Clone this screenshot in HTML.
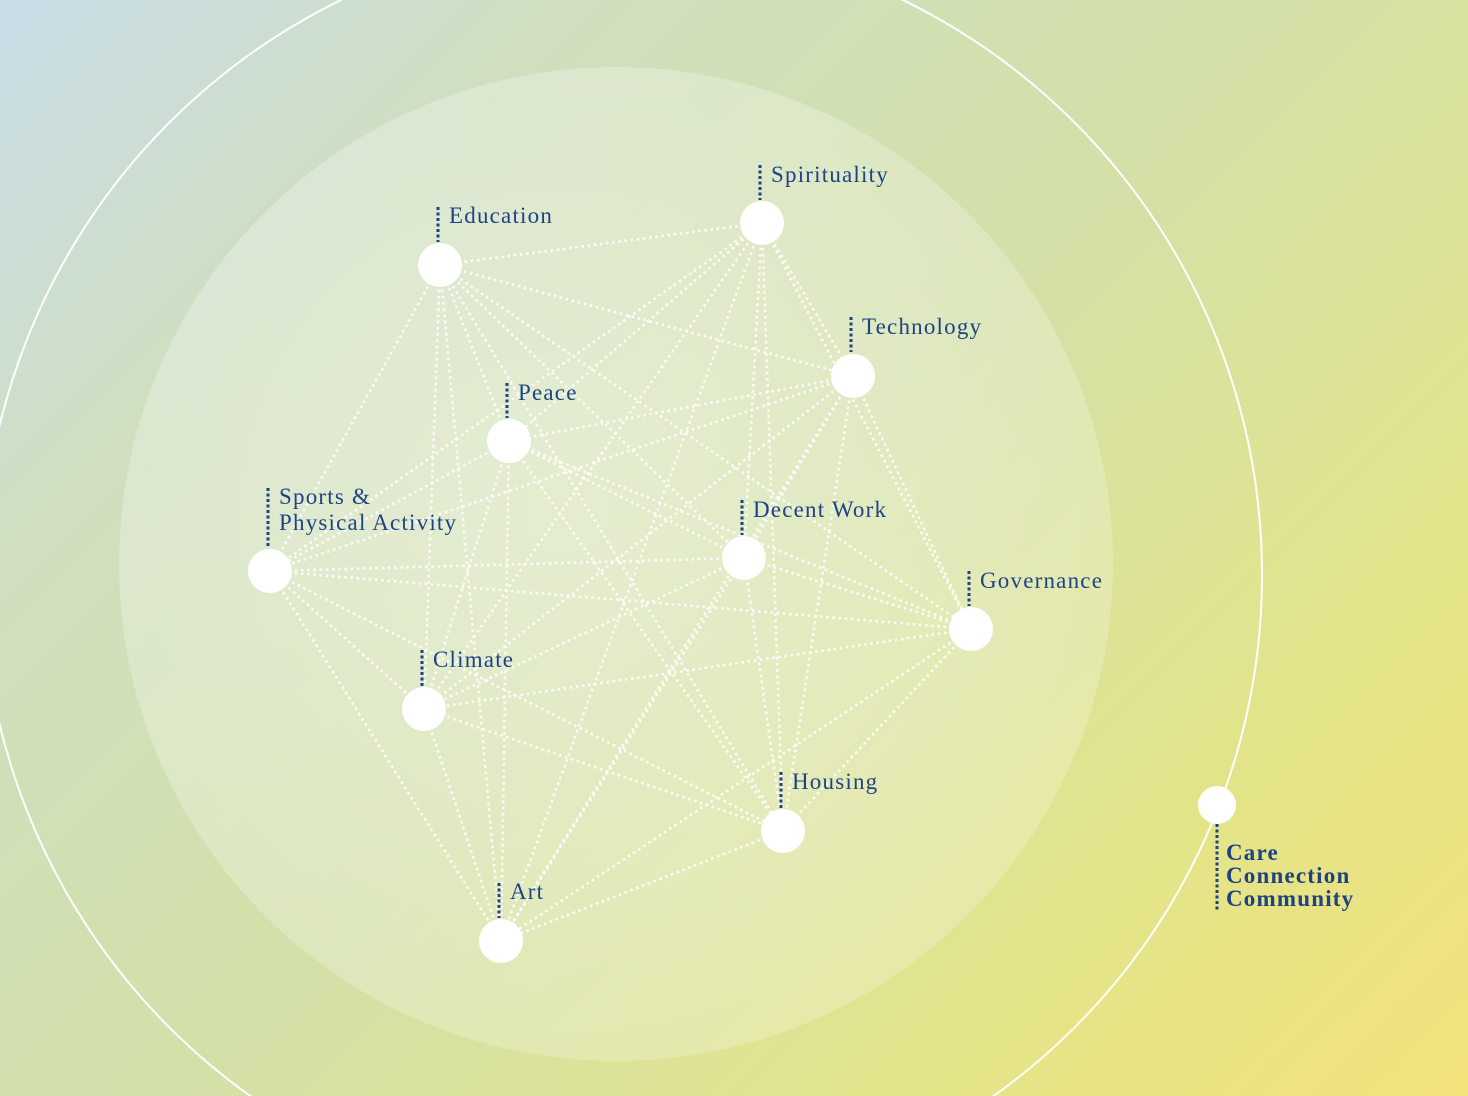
<!DOCTYPE html>
<html><head><meta charset="utf-8"><style>
html,body{margin:0;padding:0;width:1468px;height:1096px;overflow:hidden;position:relative}
body{background:linear-gradient(135deg,#c8dce8 0%,#cfdfc0 22%,#d3e0a8 50%,#e3e48a 78%,#f2e27a 100%)}
svg{position:absolute;left:0;top:0;display:block}
text{font-family:"Liberation Serif",serif;fill:#1e4384;font-size:23px;letter-spacing:1.2px}
</style></head><body>
<svg width="1468" height="1096" viewBox="0 0 1468 1096">
<defs><radialGradient id="g" cx="0.45" cy="0.45" r="0.6">
<stop offset="0" stop-color="#ffffff" stop-opacity="0.42"/>
<stop offset="1" stop-color="#ffffff" stop-opacity="0.2"/></radialGradient></defs>
<circle cx="622" cy="575" r="640" fill="none" stroke="#fff" stroke-width="2"/>
<circle cx="616" cy="564" r="497" fill="url(#g)"/>
<g id="edges" stroke="#fff" stroke-opacity="0.85" stroke-width="2.6" stroke-dasharray="2.6 3.6"></g>
<g id="nodes" fill="#fff"></g>
<g stroke="#1e4384" stroke-width="3" stroke-dasharray="3 2.5">
<line x1="438" y1="207" x2="438" y2="242"/>
<line x1="760" y1="165" x2="760" y2="200"/>
<line x1="851" y1="317" x2="851" y2="352"/>
<line x1="507" y1="383" x2="507" y2="418"/>
<line x1="268" y1="488" x2="268" y2="548"/>
<line x1="742" y1="500" x2="742" y2="535"/>
<line x1="969" y1="571" x2="969" y2="606"/>
<line x1="422" y1="650" x2="422" y2="686"/>
<line x1="781" y1="772" x2="781" y2="808"/>
<line x1="499" y1="883" x2="499" y2="918"/>
<line x1="1217" y1="824" x2="1217" y2="910"/>
</g>
<text x="449" y="223">Education</text>
<text x="771" y="182">Spirituality</text>
<text x="862" y="334">Technology</text>
<text x="518" y="400">Peace</text>
<text x="279" y="504">Sports &amp;</text>
<text x="279" y="530">Physical Activity</text>
<text x="753" y="517">Decent Work</text>
<text x="980" y="588">Governance</text>
<text x="433" y="667">Climate</text>
<text x="792" y="789">Housing</text>
<text x="510" y="899">Art</text>
<text x="1226" y="860" font-weight="bold">Care</text>
<text x="1226" y="883" font-weight="bold">Connection</text>
<text x="1226" y="906" font-weight="bold">Community</text>
</svg>
<script>
var N=[[440,265],[762,223],[853,376],[509,441],[270,571],[744,558],[971,629],[424,709],[783,831],[501,941]];
var e=document.getElementById('edges'),n=document.getElementById('nodes'),ns='http://www.w3.org/2000/svg';
for(var i=0;i<N.length;i++)for(var j=i+1;j<N.length;j++){var l=document.createElementNS(ns,'line');l.setAttribute('x1',N[i][0]);l.setAttribute('y1',N[i][1]);l.setAttribute('x2',N[j][0]);l.setAttribute('y2',N[j][1]);e.appendChild(l);}
N.push([1217,805]);
for(var k=0;k<N.length;k++){var c=document.createElementNS(ns,'circle');c.setAttribute('cx',N[k][0]);c.setAttribute('cy',N[k][1]);c.setAttribute('r',k==10?19:22);n.appendChild(c);}
</script>
</body></html>
